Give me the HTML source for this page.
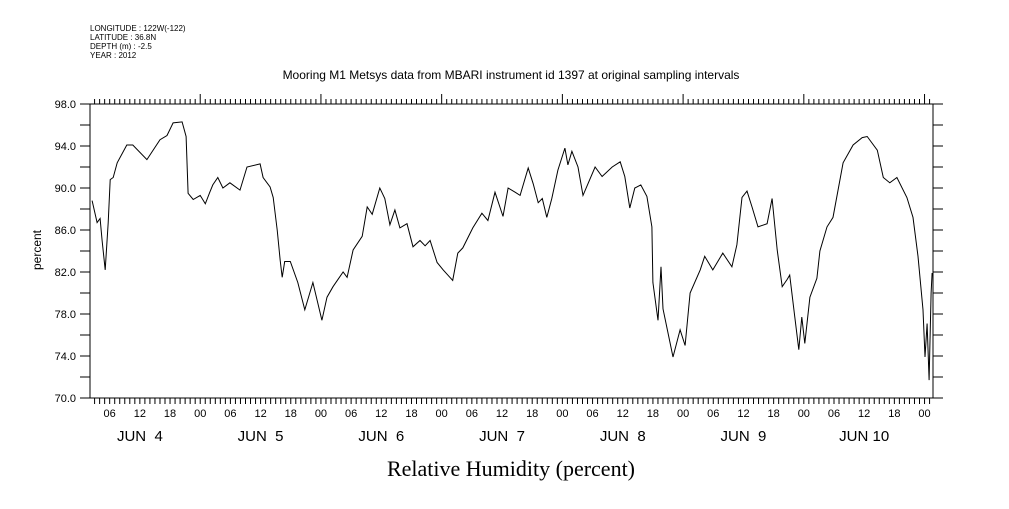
<!DOCTYPE html>
<html><head><meta charset="utf-8"><style>
body{margin:0;background:#fff;width:1009px;height:504px;overflow:hidden}
svg text{font-family:"Liberation Sans",sans-serif;fill:#000}
</style></head><body>
<svg id="c" width="1009" height="504" xmlns="http://www.w3.org/2000/svg">
<g font-size="8">
<text x="90" y="31" font-size="8">LONGITUDE : 122W(-122)</text>
<text x="90" y="40" font-size="8">LATITUDE : 36.8N</text>
<text x="90" y="49" font-size="8">DEPTH (m) : -2.5</text>
<text x="90" y="58" font-size="8">YEAR : 2012</text>
</g>
<text x="511" y="79" text-anchor="middle" font-size="12">Mooring M1 Metsys data from MBARI instrument id 1397 at original sampling intervals</text>
<text x="511" y="476" text-anchor="middle" font-size="22" style="font-family:'Liberation Serif',serif">Relative Humidity (percent)</text>
<text transform="translate(41,250) rotate(-90)" text-anchor="middle" font-size="12">percent</text>
<rect x="90" y="104" width="843" height="294" fill="none" stroke="#000" stroke-width="1"/>
<g id="axes"></g>
<path id="line" fill="none" stroke="#000" stroke-width="1"/>
</svg>
<script>
const hours=[2.5,3.5,4.1,4.5,5.1,5.7,6.1,6.7,7.5,9.4,10.6,13.4,16.0,17.4,18.6,20.4,21.2,21.6,22.6,24.0,25.0,25.9,26.5,27.5,28.5,29.9,31.9,33.3,35.9,36.5,37.9,38.5,39.3,39.9,40.3,40.8,41.9,43.4,44.8,46.4,48.2,49.2,50.4,52.4,53.2,54.4,56.2,57.2,58.2,59.7,60.7,61.7,62.7,63.7,65.1,66.3,67.7,68.7,69.7,71.1,72.3,74.2,75.2,76.2,78.2,80.0,81.2,82.6,84.2,85.2,86.6,87.6,89.2,90.2,91.2,92.0,92.9,93.9,95.1,96.5,97.1,97.9,99.1,100.1,102.5,103.9,105.9,107.5,108.4,109.4,110.4,111.6,112.8,113.8,114.0,115.0,115.6,116.0,118.0,119.4,120.4,121.4,123.4,124.3,125.9,127.9,129.7,130.7,131.7,132.7,133.7,134.9,136.7,137.7,138.7,139.7,140.7,141.2,142.2,143.0,143.6,144.2,145.2,146.6,147.2,148.6,149.8,151.8,153.8,155.6,156.6,158.6,159.8,161.1,162.5,164.5,165.7,166.7,167.7,168.1,168.5,168.9,169.3,169.5];
const values=[88.8,86.7,87.1,85.0,82.2,86.7,90.8,91.0,92.4,94.1,94.1,92.7,94.6,95.0,96.2,96.3,94.9,89.5,88.9,89.3,88.5,89.6,90.3,91.0,90.0,90.5,89.8,92.0,92.3,91.0,90.1,89.1,86.0,83.1,81.5,83.0,83.0,81.0,78.4,81.0,77.4,79.6,80.6,82.0,81.5,84.1,85.4,88.2,87.5,90.0,89.0,86.5,87.9,86.2,86.6,84.4,85.0,84.5,85.0,82.9,82.2,81.2,83.8,84.3,86.2,87.6,86.9,89.6,87.3,90.0,89.6,89.3,91.9,90.4,88.6,89.0,87.2,89.0,91.7,93.8,92.2,93.5,92.0,89.3,92.0,91.1,92.0,92.5,91.1,88.1,90.0,90.3,89.2,86.3,81.0,77.4,82.5,78.5,73.9,76.5,75.0,80.0,82.2,83.5,82.2,83.8,82.5,84.6,89.1,89.7,88.2,86.3,86.6,89.0,84.1,80.6,81.3,81.7,77.7,74.6,77.7,75.2,79.6,81.4,84.0,86.3,87.2,92.4,94.1,94.8,94.9,93.6,91.0,90.5,91.0,89.1,87.2,83.5,78.4,73.9,77.1,71.7,80.0,81.9];
const yTicks=[70,74,78,82,86,90,94,98];
const hourLabels=["06","12","18","00"];
const dayLabels=["JUN  4","JUN  5","JUN  6","JUN  7","JUN  8","JUN  9","JUN 10"];
const X0=90,X1=933,Y0=104,Y1=398;
const xs=h=>79.5+h*5.03;
const ys=v=>Y1-(v-70)/28*(Y1-Y0);
const NS="http://www.w3.org/2000/svg";
const ax=document.getElementById('axes');
function ln(x1,y1,x2,y2){const l=document.createElementNS(NS,'line');l.setAttribute('x1',x1);l.setAttribute('y1',y1);l.setAttribute('x2',x2);l.setAttribute('y2',y2);l.setAttribute('stroke','#000');ax.appendChild(l);return l;}
function tx(x,y,s,a,fs){const t=document.createElementNS(NS,'text');t.setAttribute('x',x);t.setAttribute('y',y);t.setAttribute('text-anchor',a);t.setAttribute('font-size',fs);t.textContent=s;ax.appendChild(t);return t;}
for(let v=70;v<=98;v+=2){const y=ys(v);
const l1=ln(X0-10,y,X0,y);


const l2=ln(X1,y,X1+10,y);

}
yTicks.forEach(v=>{const t=tx(76,ys(v)+4,v.toFixed(1),'end',11);

});
for(let h=0;h<=170;h++){const x=xs(h);if(x<X0||x>X1)continue;
const t1=ln(x,Y1,x,Y1+6);


const major=h%24===0;
const t2=ln(x,Y0,x,Y0-(major?10:5));


if(h%6===0){const t=tx(x,417,hourLabels[(h/6+3)%4],'middle',11);

}}
dayLabels.forEach((d,i)=>{const t=tx(xs(i*24+12),441,d,'middle',15);

t.setAttribute('xml:space','preserve');t.style.whiteSpace='pre';});
document.getElementById('line').setAttribute('d',hours.map((h,i)=>(i?'L':'M')+xs(h).toFixed(1)+','+ys(values[i]).toFixed(1)).join(''));
</script>
</body></html>
